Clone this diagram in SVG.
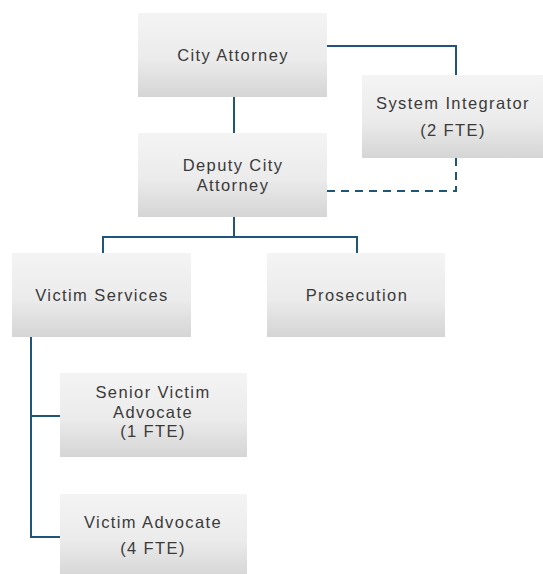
<svg xmlns="http://www.w3.org/2000/svg" width="543" height="574" viewBox="0 0 543 574">
<defs>
<linearGradient id="box" x1="0" y1="0" x2="0" y2="1">
<stop offset="0" stop-color="#f4f4f4"/>
<stop offset="0.55" stop-color="#ebebeb"/>
<stop offset="1" stop-color="#d5d5d5"/>
</linearGradient>
</defs>
<style>
.b{fill:url(#box)}
.t{font-family:"Liberation Sans",Arial,sans-serif;font-size:16.5px;letter-spacing:1.4px;fill:#3a3a3a;text-anchor:middle}
.c{fill:none;stroke:#1f5579;stroke-width:2}
.d{stroke-dasharray:8 6}
</style>
<rect width="543" height="574" fill="#ffffff"/>
<g id="connectors">
<polyline class="c" points="327,46 456,46 456,75"/>
<line class="c" x1="234" y1="97" x2="234" y2="133"/>
<polyline class="c d" points="456,158 456,191 327,191"/>
<line class="c" x1="234" y1="217" x2="234" y2="237"/>
<polyline class="c" points="103,253 103,237 357,237 357,253"/>
<polyline class="c" points="31,337 31,537 60,537"/>
<line class="c" x1="31" y1="416" x2="60" y2="416"/>
</g>
<g id="city-attorney">
<rect class="b" x="138" y="13" width="189" height="84"/>
<text class="t" x="233" y="61">City Attorney</text>
</g>
<g id="system-integrator">
<rect class="b" x="362" y="75" width="181" height="83"/>
<text class="t" x="453" y="109">System Integrator</text>
<text class="t" x="453" y="136">(2 FTE)</text>
</g>
<g id="deputy-city-attorney">
<rect class="b" x="138" y="133" width="189" height="84"/>
<text class="t" x="233" y="171">Deputy City</text>
<text class="t" x="233" y="191">Attorney</text>
</g>
<g id="victim-services">
<rect class="b" x="12" y="253" width="179" height="84"/>
<text class="t" x="102" y="301">Victim Services</text>
</g>
<g id="prosecution">
<rect class="b" x="267" y="253" width="178" height="84"/>
<text class="t" x="357" y="301">Prosecution</text>
</g>
<g id="senior-victim-advocate">
<rect class="b" x="60" y="373" width="187" height="84"/>
<text class="t" x="153" y="398">Senior Victim</text>
<text class="t" x="153" y="418">Advocate</text>
<text class="t" x="153" y="437">(1 FTE)</text>
</g>
<g id="victim-advocate">
<rect class="b" x="60" y="494" width="187" height="84"/>
<text class="t" x="153" y="528">Victim Advocate</text>
<text class="t" x="153" y="554">(4 FTE)</text>
</g>
</svg>
